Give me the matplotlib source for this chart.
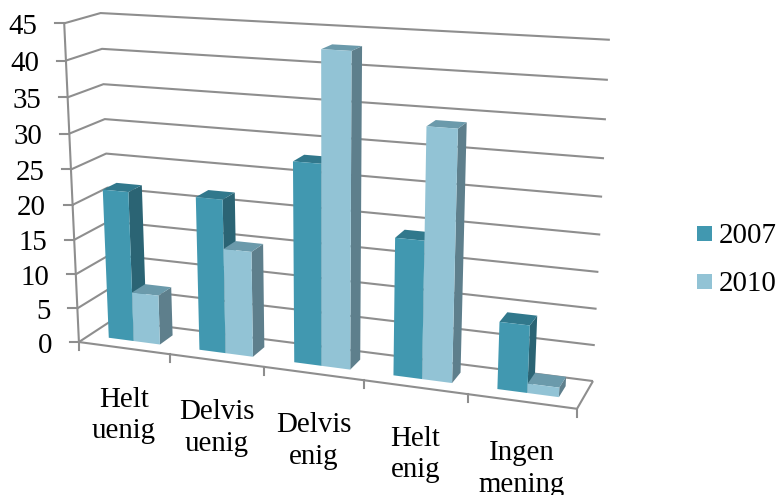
import numpy as np
import matplotlib
matplotlib.use("Agg")
import matplotlib.pyplot as plt

# ---- data ----
categories = ["Helt\nuenig", "Delvis\nuenig", "Delvis\nenig", "Helt\nenig", "Ingen\nmening"]
values_2007 = [21.7, 21.9, 28.0, 19.0, 9.2]
values_2010 = [7.2, 15.0, 43.0, 34.0, 1.3]
series_names = ["2007", "2010"]
value_ticks = [0, 5, 10, 15, 20, 25, 30, 35, 40, 45]

# ---- styles ----
FACE = ["#4198B0", "#92C3D5"]
SIDE = ["#2B6474", "#5E7F8C"]
TOP = ["#31788C", "#6B9AAB"]
GRID = "#8E8E8E"
plt.rcParams["font.family"] = ["Liberation Serif", "DejaVu Serif"]
FS = 20.8

# ---- camera: fit a projective map (category, depth, value) -> pixel ----
calib = [
    (0, 0, 45, 64, 24), (0, 0, 40, 66, 60), (0, 0, 35, 68, 97), (0, 0, 30, 69, 133),
    (0, 0, 25, 71, 170), (0, 0, 20, 73, 205), (0, 0, 15, 74.5, 240), (0, 0, 10, 76, 274),
    (0, 0, 5, 77, 308), (0, 0, 0, 79, 341),
    (0, 1, 45, 101, 13), (0, 1, 40, 101, 49), (0, 1, 35, 103.5, 84), (0, 1, 30, 105, 119),
    (0, 1, 25, 106, 154), (0, 1, 0, 113, 320),
    (5, 1, 45, 610, 40), (5, 1, 40, 608, 80), (5, 1, 35, 606, 119), (5, 1, 30, 604, 158),
    (5, 1, 25, 602, 197), (5, 1, 20, 600, 235), (5, 1, 15, 598, 272), (5, 1, 10, 597, 308),
    (5, 1, 5, 595, 345), (5, 1, 0, 593, 381),
    (1, 0, 0, 169, 355), (2, 0, 0, 265, 367), (3, 0, 0, 363, 382), (4, 0, 0, 468, 394),
    (5, 0, 0, 577, 408),
]
A, b = [], []
for c, d, v, px, py in calib:
    A.append([c, d, v, 1, 0, 0, 0, 0, -px * c, -px * d, -px * v]); b.append(px)
    A.append([0, 0, 0, 0, c, d, v, 1, -py * c, -py * d, -py * v]); b.append(py)
m = np.linalg.lstsq(np.array(A, float), np.array(b, float), rcond=None)[0]
M = np.append(m, 1.0).reshape(3, 4)


def P(c, d, v):
    h = M @ np.array([c, d, v, 1.0])
    return h[0] / h[2], h[1] / h[2]


def line(ax, pts, color=GRID, lw=1.5, z=1):
    xs, ys = zip(*[P(*p) for p in pts])
    ax.plot(xs, ys, color=color, lw=lw, solid_capstyle="butt", zorder=z)


fig = plt.figure(figsize=(7.8, 4.95), dpi=100)
ax = fig.add_axes([0, 0, 1, 1])
ax.set_xlim(0, 780)
ax.set_ylim(495, 0)
ax.axis("off")

n = len(categories)
# gridlines on side and back walls, with value ticks and labels
for v in value_ticks:
    line(ax, [(0, 0, v), (0, 1, v), (n, 1, v)])
    x0, y0 = P(0, 0, v)
    ax.plot([x0 - 9, x0], [y0, y0], color=GRID, lw=1.5, zorder=1)
    ax.text(x0 - 26.5, y0 + 3.5, str(v), ha="right", va="center", fontsize=FS, color="black")
# axes and floor edge
line(ax, [(0, 0, 0), (0, 0, value_ticks[-1])], z=1.5)
line(ax, [(0, 0, 0), (n, 0, 0), (n, 1, 0)], z=1.5)
for i in range(n + 1):
    x0, y0 = P(i, 0, 0)
    ax.plot([x0, x0], [y0, y0 + 8], color=GRID, lw=1.5, zorder=1.5)


def bar(c0, c1, d0, d1, v, k, z):
    ax.fill(*zip(*[P(c1, d0, 0), P(c1, d1, 0), P(c1, d1, v), P(c1, d0, v)]), color=SIDE[k], lw=0, zorder=z)
    ax.fill(*zip(*[P(c0, d0, v), P(c1, d0, v), P(c1, d1, v), P(c0, d1, v)]), color=TOP[k], lw=0, zorder=z)
    ax.fill(*zip(*[P(c0, d0, 0), P(c1, d0, 0), P(c1, d0, v), P(c0, d0, v)]), color=FACE[k], lw=0, zorder=z)


D0, D1 = 0.3, 0.7
W0, WM, W1 = 0.22, 0.5, 0.79
for i in range(n):
    bar(i + W0, i + WM, D0, D1, values_2007[i], 0, 2 + i)
    bar(i + WM, i + W1, D0, D1, values_2010[i], 1, 2.5 + i)
    x0, y0 = P(i + 0.5, 0, 0)
    ax.text(x0, y0 + 67.5, categories[i], ha="center", va="center", fontsize=FS, linespacing=1.27, color="black")

# legend
for k, (name, y) in enumerate(zip(series_names, [233.5, 281.5])):
    ax.fill([697, 712, 712, 697], [y - 7.5, y - 7.5, y + 7.5, y + 7.5], color=FACE[k], lw=0)
    ax.text(718.5, y + 2.5, name, ha="left", va="center", fontsize=FS, color="black")

fig.savefig("out.png", dpi=100)
